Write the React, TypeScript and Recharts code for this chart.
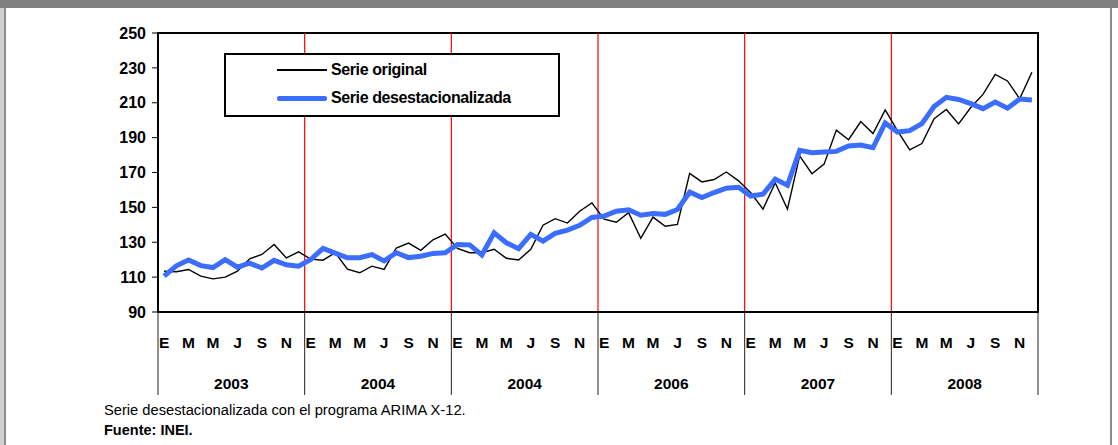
import { Legend, Line, LineChart, ReferenceArea, ReferenceLine, XAxis, YAxis } from 'recharts';

const years = ['2003', '2004', '2004', '2006', '2007', '2008'];
const monthLetters = ['E', 'F', 'M', 'A', 'M', 'J', 'J', 'A', 'S', 'O', 'N', 'D'];

// Serie original (ene 2003 - dic 2008)
const original = [
  113.4, 113.1, 114.4, 110.6, 109.0, 110.0, 113.4, 120.5, 123.0, 128.7, 121.0, 124.5,
  120.3, 119.7, 124.0, 114.6, 112.5, 116.3, 114.4, 126.7, 129.5, 125.4, 131.4, 134.7,
  126.5, 124.0, 124.0, 126.0, 120.8, 119.8, 125.9, 139.8, 143.5, 141.0, 147.8, 152.6,
  143.2, 141.5, 147.0, 132.3, 144.4, 139.2, 140.2, 169.5, 164.6, 166.0, 170.3, 165.2,
  158.4, 149.0, 164.1, 149.0, 179.5, 169.3, 174.8, 194.3, 188.8, 199.2, 192.3, 205.9,
  194.0, 183.0, 186.6, 200.9, 206.1, 197.9, 207.3, 214.8, 226.2, 222.5, 212.3, 227.5,
];

// Serie desestacionalizada
const desestacionalizada = [
  110.6, 116.5, 119.8, 116.6, 115.5, 120.0, 115.7, 118.0, 115.2, 119.6, 117.1, 116.3,
  120.1, 126.5, 123.8, 121.1, 121.1, 122.9, 119.3, 124.0, 121.2, 122.0, 123.6, 124.0,
  128.7, 128.5, 122.7, 135.4, 129.7, 126.3, 134.5, 130.6, 135.1, 137.0, 139.7, 144.2,
  145.0, 147.8, 148.6, 145.5, 146.5, 146.0, 148.8, 158.7, 155.6, 158.5, 161.0, 161.5,
  156.5, 157.6, 166.2, 162.7, 182.7, 181.3, 181.7, 182.1, 185.2, 185.8, 184.2, 198.4,
  193.2, 194.0, 198.0, 207.8, 213.1, 211.9, 209.5, 206.6, 210.4, 206.9, 212.1, 211.6,
];

const yTicks = [90, 110, 130, 150, 170, 190, 210, 230, 250];

const data = original.map((v, i) => ({
  x: i + 0.5,
  orig: v,
  sa: desestacionalizada[i],
}));

const yearBounds = years.map((_, i) => i * 12).concat([years.length * 12]);
const yearCenters = years.map((_, i) => i * 12 + 6);
const monthTicks = data.filter((_, i) => i % 2 === 0).map((d) => d.x);
const xTicks = [...yearBounds, ...yearCenters, ...monthTicks].sort((a, b) => a - b);

const FONT = "'Liberation Sans', Arial, sans-serif";
const BLUE = '#3b6dff';

function XTick(props: any) {
  const { x, y, payload } = props;
  const v = payload.value as number;
  if (v % 12 === 0) {
    return <line x1={x} x2={x} y1={y} y2={y + 83} stroke="#222" strokeWidth={1} />;
  }
  if (v % 12 === 6) {
    return (
      <text x={x} y={y + 77} textAnchor="middle" fontSize={15.5} fontWeight="bold" fill="#000" fontFamily={FONT}>
        {years[(v - 6) / 12]}
      </text>
    );
  }
  const m = Math.floor(v) % 12;
  return (
    <text x={x} y={y + 36} textAnchor="middle" fontSize={15.5} fontWeight="bold" fill="#000" fontFamily={FONT}>
      {monthLetters[m]}
    </text>
  );
}

function LegendBox() {
  const row = (color: string, thick: number, label: string) => (
    <div style={{ display: 'flex', alignItems: 'center', height: 28 }}>
      <div style={{ width: 50, height: thick, background: color, borderRadius: thick > 2 ? 2 : 0, marginLeft: 51 }} />
      <span style={{ marginLeft: 4, fontSize: 16, fontWeight: 'bold', letterSpacing: -0.4, lineHeight: 1, color: '#000' }}>
        {label}
      </span>
    </div>
  );
  return (
    <div
      style={{
        width: 336,
        height: 64,
        boxSizing: 'border-box',
        border: '2px solid #000',
        background: '#fff',
        fontFamily: FONT,
        paddingTop: 1,
      }}
    >
      {row('#000', 2, 'Serie original')}
      {row(BLUE, 5, 'Serie desestacionalizada')}
    </div>
  );
}

export default function App() {
  return (
    <div
      style={{
        position: 'absolute',
        left: 0,
        top: 0,
        width: 1118,
        height: 445,
        background: '#fff',
        overflow: 'hidden',
        fontFamily: FONT,
      }}
    >
      <div style={{ position: 'absolute', left: 0, top: 0, width: 1118, height: 8, background: '#808080' }} />
      <div style={{ position: 'absolute', left: 0, top: 8, width: 4, height: 437, background: '#d0d0d0' }} />
      <div style={{ position: 'absolute', left: 4, top: 8, width: 2, height: 437, background: '#8c8c8c' }} />
      <div style={{ position: 'absolute', left: 1110, top: 8, width: 2, height: 437, background: '#8c8c8c' }} />

      <LineChart
        width={1118}
        height={445}
        data={data}
        margin={{ top: 33, right: 80, left: 0, bottom: 0 }}
        style={{ position: 'absolute', left: 0, top: 0 }}
      >
        <XAxis
          dataKey="x"
          type="number"
          domain={[0, 72]}
          ticks={xTicks}
          interval={0}
          tick={<XTick />}
          tickLine={false}
          tickSize={0}
          tickMargin={0}
          axisLine={{ stroke: '#000', strokeWidth: 2 }}
          height={133}
          allowDecimals
        />
        <YAxis
          domain={[90, 250]}
          ticks={yTicks}
          interval={0}
          width={158}
          tickSize={6}
          tickMargin={6}
          tickLine={{ stroke: '#000' }}
          axisLine={{ stroke: '#000', strokeWidth: 2 }}
          tick={{ fontSize: 16, fontWeight: 'bold', fill: '#000', fontFamily: FONT }}
        />
        {yearBounds.slice(1, -1).map((b) => (
          <ReferenceLine key={b} x={b} stroke="#ff0000" strokeWidth={1.2} />
        ))}
        <Line
          type="linear"
          dataKey="orig"
          name="Serie original"
          stroke="#000"
          strokeWidth={1.4}
          dot={false}
          isAnimationActive={false}
        />
        <Line
          type="linear"
          dataKey="sa"
          name="Serie desestacionalizada"
          stroke={BLUE}
          strokeWidth={5}
          dot={false}
          isAnimationActive={false}
        />
        <ReferenceArea x1={0} x2={72} y1={90} y2={250} fill="none" stroke="#000" strokeWidth={2} />
        <Legend
          layout="horizontal"
          verticalAlign="middle"
          align="center"
          content={<LegendBox />}
          wrapperStyle={{ left: 224, top: 53, width: 336, height: 64 }}
        />
      </LineChart>

      <div
        style={{
          position: 'absolute',
          left: 104,
          top: 403,
          fontSize: 14.7,
          lineHeight: '15px',
          color: '#000',
          whiteSpace: 'nowrap',
        }}
      >
        Serie desestacionalizada con el programa ARIMA X-12.
      </div>
      <div
        style={{
          position: 'absolute',
          left: 104,
          top: 423,
          fontSize: 14.5,
          lineHeight: '15px',
          fontWeight: 'bold',
          color: '#000',
          whiteSpace: 'nowrap',
        }}
      >
        Fuente: INEI.
      </div>
    </div>
  );
}
